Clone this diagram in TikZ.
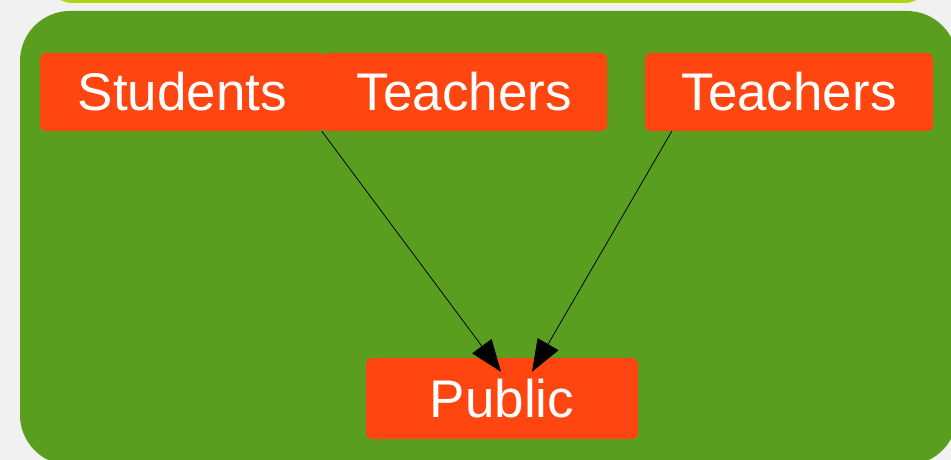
\documentclass[tikz,border=0pt]{standalone}
\usepackage{fontspec}
\setmainfont{Liberation Sans}
\usetikzlibrary{arrows.meta}
\definecolor{bgray}{HTML}{F1F1F1}
\definecolor{lime}{HTML}{B5D30B}
\definecolor{leaf}{HTML}{5A9E1F}
\definecolor{tomato}{HTML}{FF4510}
\tikzset{
  actor/.style={fill=tomato,rounded corners=6pt,text=white,inner sep=0pt,
    minimum height=78pt,font=\fontsize{53}{60}\selectfont},
  flow/.style={-{Triangle[length=32pt,width=24pt]},line width=0.8pt}
}

\begin{document}
\begin{tikzpicture}[x=1pt,y=-1pt]
\useasboundingbox (0,0) rectangle (951,460);
\clip (0,0) rectangle (951,460);
\fill[bgray] (0,0) rectangle (951,460);
%\fill[lime] top group
\fill[lime,rounded corners=28pt] (45,-80) rectangle (932,3);
\fill[leaf,rounded corners=50pt] (20,11) rectangle (957,465);
\node[actor,minimum width=285pt] (stud) at (182.5,92) {Students};
\node[actor,minimum width=285pt] (teachA) at (464.5,92) {Teachers};
\node[actor,minimum width=288pt] (teachB) at (789,92) {Teachers};
\node[actor,minimum width=272pt,minimum height=81pt] (pub) at (502,398.5) {Public};
\draw[flow] (teachA.south west) -- ([shift={(-1,14)}]pub.north);
\draw[flow] ([xshift=27pt]teachB.south west) -- ([shift={(30,14)}]pub.north);
\end{tikzpicture}
\end{document}
